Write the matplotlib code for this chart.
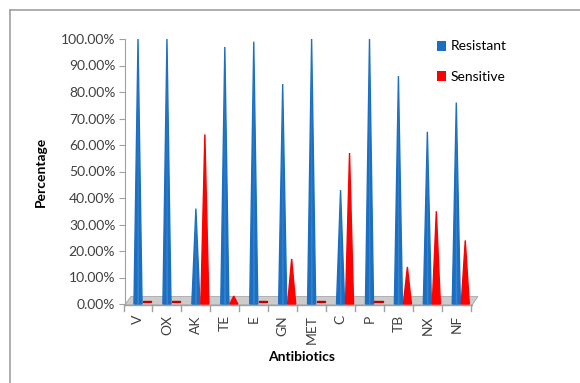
import numpy as np
import matplotlib.pyplot as plt
from matplotlib.patches import Patch, Polygon
from matplotlib.lines import Line2D

# data
antibiotics = ['V', 'OX', 'AK', 'TE', 'E', 'GN', 'MET', 'C', 'P', 'TB', 'NX', 'NF']
resistant = [100, 100, 36, 97, 99, 83, 100, 43, 100, 86, 65, 76]
sensitive = [0, 0, 64, 3, 1, 17, 0, 57, 0, 14, 35, 24]

plt.rcParams['font.family'] = ['Lato', 'DejaVu Sans']

fig = plt.figure(figsize=(5.8, 3.83), dpi=100)

# outer frame (top and left only visible)
fig.add_artist(Line2D([10/580, 1], [1 - 10/383, 1 - 10/383], color='#a0a0a0', lw=1.2))
fig.add_artist(Line2D([10/580, 10/580], [0, 1 - 10/383], color='#a0a0a0', lw=1.2))

ax = fig.add_axes([125/580, 1 - 304/383, 353/580, 265/383])
ax.set_xlim(-0.45, 11.75)
ax.set_ylim(0, 100)

blue = '#1b6fc2'
blue_hi = '#6fa8e0'
red = '#ff0000'
w = 0.14
off_r = 0.31

x = np.arange(len(antibiotics))

# floor of the 3D chart
floor = Polygon([(-0.45, -0.3), (11.55, -0.3), (11.75, 2.8), (-0.25, 2.8)],
                closed=True, facecolor='#cccccc', edgecolor='#a8a8a8', lw=0.6,
                clip_on=False, zorder=1)
ax.add_patch(floor)

for i in x:
    r = resistant[i]
    s = sensitive[i]
    # blue cone
    ax.fill([i - w, i, i + w], [0, r, 0], color=blue, zorder=3, clip_on=False)
    ax.fill([i - w * 0.15, i, i + w * 0.25], [0, r, 0], color=blue_hi, alpha=0.35, zorder=4, lw=0, clip_on=False)
    # red cone
    if s >= 2:
        ax.fill([i + off_r - w, i + off_r, i + off_r + w], [0, s, 0], color=red, zorder=3, clip_on=False)
    else:
        ax.fill([i + off_r - w, i + off_r + w, i + off_r + w, i + off_r - w], [0.6, 0.6, 1.2, 1.2],
                color='#c00000', zorder=3, clip_on=False)

# axes styling
for side in ['top', 'right', 'bottom']:
    ax.spines[side].set_visible(False)
ax.spines['left'].set_color('#a0a0a0')
ax.set_yticks(np.arange(0, 101, 10))
ax.set_yticklabels(['%.2f%%' % v for v in np.arange(0, 101, 10)], fontsize=10, color='#404040')
ax.tick_params(axis='y', length=4, color='#a0a0a0', pad=3)

ax.set_xticks(x)
ax.set_xticklabels(antibiotics, rotation=90, fontsize=10, color='#404040')
ax.tick_params(axis='x', length=0, pad=8)
for b in np.arange(-0.5, 12, 1.0):
    ax.plot([b, b], [-0.3, -2.5], color='#a0a0a0', lw=1, clip_on=False, zorder=1)
ax.plot([-0.45, 11.55], [-0.3, -0.3], color='#a0a0a0', lw=1, clip_on=False, zorder=1)

ax.set_ylabel('Percentage', fontsize=10, fontweight='bold', labelpad=10)
ax.set_xlabel('Antibiotics', fontsize=10, fontweight='bold', labelpad=5)

handles = [Patch(facecolor=blue, label='Resistant'), Patch(facecolor=red, label='Sensitive')]
fig.legend(handles=handles, loc='upper left', bbox_to_anchor=(424/580, 1 - 28/383),
           frameon=False, fontsize=10, labelspacing=1.3, handlelength=0.7, handleheight=0.7,
           handletextpad=0.3)

fig.savefig('out.png', dpi=100)
